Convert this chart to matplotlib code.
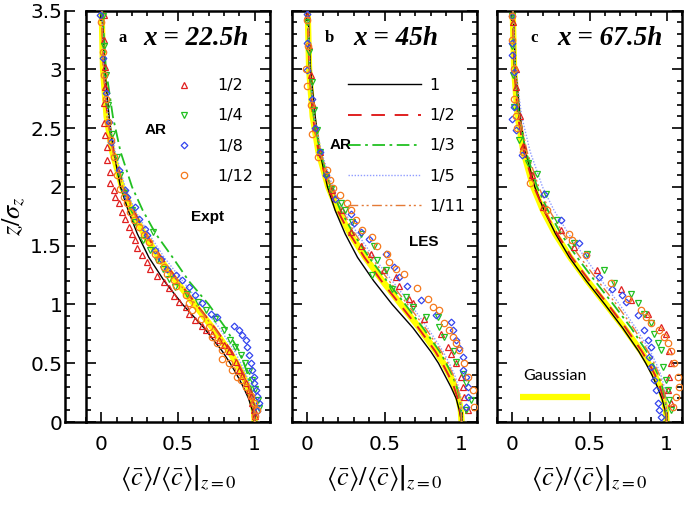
import matplotlib
matplotlib.use("Agg")
import matplotlib.pyplot as plt
from matplotlib.ticker import MultipleLocator, FormatStrFormatter

plt.rcParams["mathtext.fontset"] = "stix"
plt.rcParams["font.family"] = ["DejaVu Sans"]

# ---------------- datos ----------------
# LES: perfiles en una rejilla comun de z/sigma_z
Z_LES = [0, 0.1, 0.2, 0.3, 0.4, 0.5, 0.6, 0.8, 1.0, 1.2, 1.4, 1.6, 1.8, 2.0, 2.3, 2.6, 3.0, 3.5]
GAUSS = [1.0, 0.995, 0.98, 0.956, 0.923, 0.882, 0.835, 0.726, 0.607, 0.487, 0.375, 0.278, 0.198, 0.135, 0.071, 0.034, 0.011, 0.002]

LES_A_1 = [1.0, 0.985, 0.96, 0.925, 0.885, 0.84, 0.79, 0.67, 0.53, 0.41, 0.31, 0.235, 0.175, 0.125, 0.08, 0.05, 0.022, 0.005]
LES_A_2 = [1.0, 0.995, 0.98, 0.96, 0.93, 0.89, 0.85, 0.74, 0.62, 0.50, 0.39, 0.29, 0.21, 0.145, 0.08, 0.04, 0.015, 0.003]
LES_A_3 = [1.0, 0.998, 0.99, 0.975, 0.955, 0.93, 0.90, 0.81, 0.70, 0.57, 0.465, 0.355, 0.27, 0.20, 0.125, 0.075, 0.03, 0.006]
LES_A_5 = [1.0, 0.998, 0.99, 0.97, 0.945, 0.91, 0.87, 0.77, 0.65, 0.53, 0.41, 0.31, 0.22, 0.155, 0.09, 0.045, 0.016, 0.003]
LES_A_11 = [1.0, 0.996, 0.982, 0.96, 0.928, 0.888, 0.842, 0.735, 0.615, 0.495, 0.382, 0.284, 0.203, 0.14, 0.075, 0.036, 0.012, 0.002]

LES_B_1 = [1.0, 0.985, 0.965, 0.93, 0.89, 0.85, 0.80, 0.685, 0.55, 0.43, 0.325, 0.245, 0.18, 0.13, 0.08, 0.05, 0.02, 0.004]
LES_B_2 = [1.0, 0.99, 0.975, 0.95, 0.915, 0.875, 0.83, 0.72, 0.60, 0.48, 0.37, 0.275, 0.195, 0.135, 0.072, 0.035, 0.012, 0.002]
LES_B_3 = [1.0, 0.997, 0.988, 0.968, 0.94, 0.90, 0.858, 0.75, 0.635, 0.515, 0.40, 0.30, 0.215, 0.15, 0.082, 0.04, 0.014, 0.003]
LES_B_5 = [1.0, 1.0, 0.995, 0.98, 0.955, 0.92, 0.88, 0.78, 0.67, 0.55, 0.43, 0.325, 0.235, 0.165, 0.09, 0.045, 0.016, 0.003]
LES_B_11 = [1.0, 0.998, 0.99, 0.972, 0.945, 0.91, 0.868, 0.765, 0.65, 0.53, 0.415, 0.31, 0.225, 0.155, 0.085, 0.042, 0.015, 0.003]

LES_C_1 = [1.0, 0.99, 0.97, 0.94, 0.905, 0.865, 0.82, 0.715, 0.60, 0.48, 0.37, 0.28, 0.205, 0.145, 0.085, 0.05, 0.02, 0.004]
LES_C_2 = [1.0, 0.995, 0.98, 0.957, 0.925, 0.885, 0.84, 0.735, 0.62, 0.50, 0.385, 0.29, 0.205, 0.14, 0.075, 0.036, 0.012, 0.002]
LES_C_3 = [1.0, 0.998, 0.99, 0.972, 0.945, 0.91, 0.87, 0.77, 0.655, 0.535, 0.42, 0.315, 0.23, 0.16, 0.088, 0.043, 0.015, 0.003]
LES_C_5 = [1.0, 1.0, 0.997, 0.985, 0.963, 0.932, 0.895, 0.80, 0.695, 0.58, 0.47, 0.365, 0.27, 0.195, 0.115, 0.06, 0.02, 0.004]
LES_C_11 = [1.0, 1.0, 0.994, 0.978, 0.953, 0.92, 0.88, 0.785, 0.675, 0.555, 0.44, 0.33, 0.24, 0.17, 0.095, 0.046, 0.016, 0.003]

# Expt: (z, c) por AR
EXP_A_2_Z = [3.46, 3.25, 3.02, 2.85, 2.71, 2.54, 2.44, 2.34, 2.23, 2.13, 2.03, 1.97, 1.91, 1.86, 1.79, 1.73, 1.66, 1.60, 1.55, 1.48, 1.42, 1.36, 1.30, 1.24, 1.19, 1.14, 1.07, 1.02, 0.98, 0.92, 0.87, 0.82, 0.78, 0.75, 0.70, 0.655, 0.60, 0.51, 0.44, 0.39, 0.33, 0.27, 0.22, 0.16, 0.10, 0.05]
EXP_A_2_C = [0.015, 0.015, 0.026, 0.026, 0.015, 0.015, 0.026, 0.037, 0.037, 0.059, 0.059, 0.081, 0.092, 0.113, 0.135, 0.157, 0.179, 0.200, 0.222, 0.233, 0.266, 0.298, 0.320, 0.364, 0.407, 0.440, 0.473, 0.505, 0.549, 0.571, 0.614, 0.658, 0.680, 0.723, 0.767, 0.80, 0.832, 0.876, 0.898, 0.919, 0.941, 0.963, 0.975, 0.985, 0.996, 1.0]
EXP_A_4_Z = [3.45, 3.2, 2.95, 2.7, 2.45, 2.25, 2.1, 1.95, 1.8, 1.7, 1.62, 1.55, 1.46, 1.38, 1.3, 1.22, 1.15, 1.09, 1.02, 0.95, 0.88, 0.78, 0.70, 0.64, 0.57, 0.50, 0.43, 0.36, 0.28, 0.19, 0.12]
EXP_A_4_C = [0.01, 0.02, 0.03, 0.045, 0.07, 0.10, 0.12, 0.15, 0.20, 0.22, 0.34, 0.27, 0.32, 0.36, 0.40, 0.44, 0.48, 0.56, 0.63, 0.68, 0.74, 0.80, 0.84, 0.87, 0.91, 0.94, 0.96, 0.98, 1.0, 1.02, 1.03]
EXP_A_8_Z = [3.46, 3.1, 2.8, 2.55, 2.38, 2.14, 1.97, 1.91, 1.83, 1.73, 1.645, 1.59, 1.46, 1.39, 1.30, 1.25, 1.21, 1.15, 1.08, 1.01, 0.92, 0.89, 0.82, 0.78, 0.74, 0.70, 0.64, 0.57, 0.50, 0.44, 0.385, 0.33, 0.27, 0.22, 0.16, 0.09]
EXP_A_8_C = [-0.01, 0.01, 0.03, 0.05, 0.063, 0.118, 0.157, 0.168, 0.222, 0.244, 0.288, 0.298, 0.353, 0.386, 0.429, 0.484, 0.527, 0.571, 0.614, 0.658, 0.712, 0.756, 0.865, 0.898, 0.919, 0.941, 0.952, 0.963, 0.974, 0.985, 0.996, 0.996, 1.007, 1.017, 1.028, 1.017]
EXP_A_12_Z = [3.40, 3.15, 2.95, 2.75, 2.55, 2.40, 2.25, 2.10, 1.985, 1.91, 1.86, 1.79, 1.72, 1.66, 1.59, 1.53, 1.43, 1.38, 1.32, 1.26, 1.21, 1.16, 1.08, 1.01, 0.95, 0.88, 0.81, 0.72, 0.67, 0.61, 0.54, 0.50, 0.44, 0.385, 0.36, 0.30, 0.22, 0.16, 0.10, 0.05]
EXP_A_12_C = [0.0, 0.01, 0.02, 0.03, 0.045, 0.06, 0.08, 0.103, 0.124, 0.146, 0.168, 0.190, 0.211, 0.244, 0.277, 0.309, 0.353, 0.375, 0.407, 0.429, 0.473, 0.484, 0.549, 0.571, 0.593, 0.647, 0.702, 0.723, 0.756, 0.789, 0.789, 0.832, 0.854, 0.887, 0.908, 0.941, 0.974, 0.996, 1.017, 1.005]

EXP_B_2_Z = [3.45, 3.2, 2.95, 2.7, 2.5, 2.3, 2.12, 1.97, 1.80, 1.62, 1.50, 1.43, 1.29, 1.23, 1.16, 1.05, 1.01, 0.88, 0.75, 0.64, 0.58, 0.50, 0.385, 0.30, 0.215, 0.10]
EXP_B_2_C = [0.0, 0.01, 0.02, 0.035, 0.05, 0.08, 0.12, 0.16, 0.226, 0.28, 0.345, 0.41, 0.497, 0.573, 0.595, 0.66, 0.682, 0.758, 0.866, 0.91, 0.931, 0.964, 0.996, 1.007, 1.018, 1.04]
EXP_B_4_Z = [3.4, 3.15, 2.89, 2.65, 2.48, 2.3, 2.1, 1.98, 1.86, 1.80, 1.70, 1.60, 1.50, 1.38, 1.29, 1.25, 1.135, 1.065, 0.98, 0.89, 0.89, 0.81, 0.72, 0.60, 0.51, 0.41, 0.33, 0.19, 0.10]
EXP_B_4_C = [0.0, 0.01, 0.03, 0.04, 0.063, 0.08, 0.12, 0.15, 0.215, 0.247, 0.29, 0.345, 0.432, 0.453, 0.508, 0.421, 0.551, 0.638, 0.682, 0.768, 0.845, 0.855, 0.888, 0.953, 0.964, 1.007, 1.029, 1.062, 1.029]
EXP_B_8_Z = [3.47, 3.22, 2.99, 2.75, 2.5, 2.3, 2.1, 1.90, 1.77, 1.69, 1.62, 1.56, 1.43, 1.32, 1.23, 1.16, 1.04, 0.91, 0.85, 0.78, 0.70, 0.63, 0.555, 0.44, 0.385, 0.30, 0.215, 0.13]
EXP_B_8_C = [0.0, 0.0, 0.0, 0.03, 0.05, 0.08, 0.12, 0.182, 0.28, 0.302, 0.345, 0.399, 0.508, 0.562, 0.595, 0.649, 0.736, 0.834, 0.931, 0.942, 0.964, 0.986, 1.007, 1.007, 1.029, 1.04, 1.04, 1.029]
EXP_B_12_Z = [3.42, 3.2, 3.0, 2.86, 2.7, 2.45, 2.25, 2.14, 2.06, 1.99, 1.93, 1.86, 1.80, 1.72, 1.63, 1.57, 1.50, 1.43, 1.36, 1.30, 1.26, 1.14, 1.05, 0.98, 0.95, 0.84, 0.78, 0.72, 0.67, 0.61, 0.50, 0.385, 0.27, 0.13]
EXP_B_12_C = [0.0, 0.005, -0.01, -0.005, 0.02, 0.028, 0.07, 0.126, 0.147, 0.169, 0.212, 0.256, 0.28, 0.312, 0.354, 0.419, 0.453, 0.518, 0.529, 0.573, 0.627, 0.714, 0.779, 0.812, 0.855, 0.888, 0.92, 0.942, 0.964, 0.986, 1.018, 1.04, 1.072, 1.083]

EXP_C_2_Z = [3.4, 3.0, 2.85, 2.6, 2.35, 2.1, 1.83, 1.63, 1.49, 1.29, 1.135, 1.04, 0.92, 0.81, 0.75, 0.60, 0.50, 0.385, 0.27, 0.16]
EXP_C_2_C = [0.005, 0.025, 0.025, 0.05, 0.07, 0.13, 0.197, 0.312, 0.399, 0.551, 0.703, 0.768, 0.877, 0.964, 0.996, 1.018, 1.029, 1.018, 1.007, 1.029]
EXP_C_4_Z = [3.45, 3.2, 2.95, 2.68, 2.4, 2.2, 2.11, 1.94, 1.72, 1.52, 1.43, 1.29, 1.18, 1.09, 1.01, 0.92, 0.84, 0.75, 0.67, 0.61, 0.47, 0.36, 0.27, 0.19, 0.10]
EXP_C_4_C = [0.0, 0.0, 0.005, 0.01, 0.04, 0.1, 0.16, 0.215, 0.29, 0.399, 0.486, 0.595, 0.66, 0.768, 0.812, 0.855, 0.899, 0.92, 0.942, 0.964, 0.975, 0.996, 1.007, 1.018, 1.029]
EXP_C_8_Z = [3.45, 3.22, 3.12, 2.98, 2.68, 2.58, 2.48, 2.27, 1.94, 1.72, 1.52, 1.42, 1.23, 1.135, 1.08, 1.02, 0.91, 0.78, 0.70, 0.64, 0.555, 0.47, 0.36, 0.27, 0.16, 0.10, 0.045]
EXP_C_8_C = [0.0, 0.0, -0.005, 0.011, 0.011, -0.002, 0.02, 0.063, 0.204, 0.312, 0.432, 0.475, 0.562, 0.649, 0.714, 0.736, 0.812, 0.855, 0.877, 0.899, 0.888, 0.899, 0.92, 0.931, 0.942, 0.953, 0.964]
EXP_C_12_Z = [3.45, 3.25, 3.0, 2.75, 2.6, 2.5, 2.3, 2.03, 1.80, 1.60, 1.55, 1.42, 1.18, 1.05, 0.95, 0.89, 0.84, 0.78, 0.72, 0.67, 0.60, 0.50, 0.385, 0.30, 0.215, 0.13]
EXP_C_12_C = [0.0, -0.005, 0.01, 0.01, 0.02, 0.03, 0.07, 0.117, 0.226, 0.367, 0.388, 0.475, 0.638, 0.747, 0.834, 0.866, 0.899, 0.953, 0.986, 1.007, 1.029, 1.05, 1.072, 1.083, 1.062, 1.04]

EXP_LABELS = ["1/2", "1/4", "1/8", "1/12"]
LES_LABELS = ["1", "1/2", "1/3", "1/5", "1/11"]
PANEL_TAGS = ["a", "b", "c"]
PANEL_TITLES = ["x = 22.5h", "x = 45h", "x = 67.5h"]

# ---------------- estilos ----------------
RED = "#e02020"
GREEN = "#22c022"
BLUE = "#3344ee"
ORANGE = "#f57a1e"
YELLOW = "#ffff00"

EXP_STYLE = [
    dict(marker="^", color=RED, ms=4.3),
    dict(marker="v", color=GREEN, ms=4.3),
    dict(marker="D", color=BLUE, ms=3.4),
    dict(marker="o", color=ORANGE, ms=4.6),
]
LES_STYLE = [
    dict(color="black", lw=1.0, ls="-"),
    dict(color=RED, lw=1.4, ls=(0, (7, 5))),
    dict(color=GREEN, lw=1.3, ls=(0, (7, 2.5, 1.5, 2.5))),
    dict(color="#8f9cff", lw=1.0, ls=(0, (1, 1.2))),
    dict(color="#e47a36", lw=1.0, ls=(0, (7, 2.5, 1.5, 2, 1.5, 2.5))),
]
LABEL_FONT = dict(fontsize=11, fontweight="bold", family="Liberation Sans")

FIG_W, FIG_H = 685, 505
Y0, Y1 = 422, 10.5
PANEL_X = [(86, 270), (292, 477), (497, 682)]
TITLE_X = [0.60, 0.56, 0.61]
XLABEL = r"$\left\langle\bar{c}\right\rangle/\left.\left\langle\bar{c}\right\rangle\right|_{z=0}$"


def fig_rect(x0, x1):
    return [x0 / FIG_W, 1 - Y0 / FIG_H, (x1 - x0) / FIG_W, (Y0 - Y1) / FIG_H]


def style_frame(ax):
    ax.set_xlim(-0.1, 1.1)
    ax.set_ylim(0, 3.5)
    ax.xaxis.set_major_locator(MultipleLocator(0.5))
    ax.xaxis.set_minor_locator(MultipleLocator(0.1))
    ax.yaxis.set_major_locator(MultipleLocator(0.5))
    ax.yaxis.set_minor_locator(MultipleLocator(0.1))
    ax.xaxis.set_major_formatter(FormatStrFormatter("%g"))
    ax.tick_params(which="both", direction="in", top=True, right=True, left=True,
                   labelleft=False, width=1.2)
    ax.tick_params(which="major", length=7, labelsize=14.5, pad=9)
    ax.tick_params(which="minor", length=3.5)
    for sp in ax.spines.values():
        sp.set_linewidth(1.8)
    ax.set_xlabel(XLABEL, fontsize=19, labelpad=7)


def main():
    fig = plt.figure(figsize=(FIG_W / 100, FIG_H / 100), dpi=100)

    les_sets = [
        [LES_A_1, LES_A_2, LES_A_3, LES_A_5, LES_A_11],
        [LES_B_1, LES_B_2, LES_B_3, LES_B_5, LES_B_11],
        [LES_C_1, LES_C_2, LES_C_3, LES_C_5, LES_C_11],
    ]
    exp_sets = [
        [(EXP_A_2_Z, EXP_A_2_C), (EXP_A_4_Z, EXP_A_4_C), (EXP_A_8_Z, EXP_A_8_C), (EXP_A_12_Z, EXP_A_12_C)],
        [(EXP_B_2_Z, EXP_B_2_C), (EXP_B_4_Z, EXP_B_4_C), (EXP_B_8_Z, EXP_B_8_C), (EXP_B_12_Z, EXP_B_12_C)],
        [(EXP_C_2_Z, EXP_C_2_C), (EXP_C_4_Z, EXP_C_4_C), (EXP_C_8_Z, EXP_C_8_C), (EXP_C_12_Z, EXP_C_12_C)],
    ]

    for i, (x0, x1) in enumerate(PANEL_X):
        ax = fig.add_axes(fig_rect(x0, x1))
        style_frame(ax)

        gline, = ax.plot(GAUSS, Z_LES, color=YELLOW, lw=4.5, solid_capstyle="butt", zorder=1)
        les_handles = []
        for vals, st in zip(les_sets[i], LES_STYLE):
            h, = ax.plot(vals, Z_LES, zorder=3, **st)
            les_handles.append(h)
        exp_handles = []
        for (zz, cc), st in zip(exp_sets[i], EXP_STYLE):
            h, = ax.plot(cc, zz, ls="none", marker=st["marker"], ms=st["ms"], mfc="none",
                         mec=st["color"], mew=0.9, zorder=4)
            exp_handles.append(h)

        ax.text(0.2, 0.933, PANEL_TAGS[i], transform=ax.transAxes, ha="center", va="center",
                fontsize=12, fontweight="bold", family="Liberation Serif")
        ax.text(TITLE_X[i], 0.933, PANEL_TITLES[i], transform=ax.transAxes,
                ha="center", va="center", fontsize=19.5, fontweight="bold", style="italic",
                family="Liberation Serif")

        if i == 0:
            ax.legend(exp_handles, EXP_LABELS, loc="center", bbox_to_anchor=(0.70, 0.707),
                      frameon=False, fontsize=11.5, handlelength=1.0, handletextpad=1.6,
                      labelspacing=0.95, markerscale=1.0)
            ax.text(0.38, 0.71, "AR", transform=ax.transAxes, ha="center", va="center", **LABEL_FONT)
            ax.text(0.66, 0.499, "Expt", transform=ax.transAxes, ha="center", va="center", **LABEL_FONT)
        elif i == 1:
            ax.legend(les_handles, LES_LABELS, loc="center", bbox_to_anchor=(0.62, 0.671),
                      frameon=False, fontsize=11.5, handlelength=4.6, handletextpad=0.5,
                      labelspacing=0.95)
            ax.text(0.265, 0.673, "AR", transform=ax.transAxes, ha="center", va="center", **LABEL_FONT)
            ax.text(0.713, 0.437, "LES", transform=ax.transAxes, ha="center", va="center", **LABEL_FONT)
        else:
            ax.legend([gline], [""], loc="center", bbox_to_anchor=(0.313, 0.085),
                      frameon=False, fontsize=11, handlelength=4.6, handletextpad=0,
                      title="Gaussian", title_fontproperties={"family": "Lato", "size": 11.5})

    # eje y separado a la izquierda
    ay = fig.add_axes(fig_rect(65, 86))
    ay.set_ylim(0, 3.5)
    ay.set_xlim(0, 1)
    ay.yaxis.set_major_locator(MultipleLocator(0.5))
    ay.yaxis.set_minor_locator(MultipleLocator(0.1))
    ay.yaxis.set_major_formatter(FormatStrFormatter("%g"))
    ay.set_xticks([])
    ay.spines["top"].set_visible(False)
    ay.spines["right"].set_visible(False)
    for sp in ("left", "bottom"):
        ay.spines[sp].set_linewidth(1.8)
    ay.tick_params(which="both", direction="in", width=1.2)
    ay.tick_params(which="major", length=7, labelsize=14.5, pad=2)
    ay.tick_params(which="minor", length=3.5)
    ay.patch.set_alpha(0)
    ay.set_ylabel(r"$z/\sigma_z$", fontsize=19, labelpad=2)

    fig.savefig("out.png", dpi=100)


if __name__ == "__main__":
    main()
